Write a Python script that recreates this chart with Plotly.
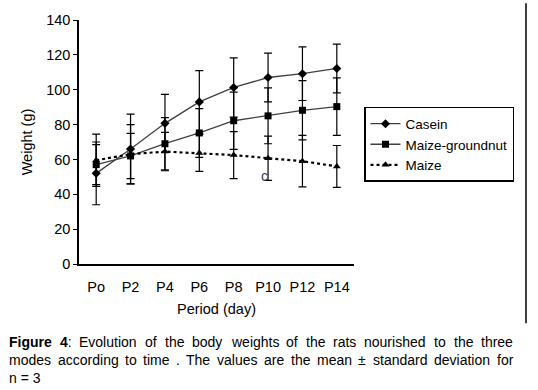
import plotly.graph_objects as go

periods = ["Po", "P2", "P4", "P6", "P8", "P10", "P12", "P14"]
casein = [52, 66, 80.7, 93, 101.3, 107, 109.2, 112.2]
casein_sd = [18, 20, 16.6, 18, 17, 14, 15.4, 14]
maize_gn = [57, 62, 69, 75.2, 82.2, 85, 88.2, 90.3]
maize_gn_sd = [11.5, 13, 15, 14, 16.4, 16, 17, 16.5]
maize = [59.5, 63, 64.5, 63.7, 62.5, 60.7, 59, 56]
maize_sd = [15, 17, 11, 10.5, 13.5, 12.7, 14.8, 12]

caption_line1 = [("Figure", True), ("4", True, ":"), ("Evolution", False), ("of", False),
                 ("the", False), ("body", False), ("weights", False), ("of", False),
                 ("the", False), ("rats", False), ("nourished", False), ("to", False),
                 ("the", False), ("three", False)]
caption_line2 = "modes according to time . The values are the mean ± standard deviation for"
caption_line3 = "n = 3"

FONT = "Liberation Sans, Arial, sans-serif"
CAP_SIZE = 14

# plot-area geometry (px)
L, T, PW, PH = 79, 17, 275, 247


def px_x(px):
    return (px - L) / PW


def px_y(py):
    return (T + PH - py) / PH


REG = dict(a=556, b=556, c=500, d=556, e=556, f=278, g=556, h=556, i=222, j=222, k=500,
           l=222, m=833, n=556, o=556, p=556, q=556, r=333, s=500, t=278, u=556, v=500,
           w=722, x=500, y=500, z=500, T=611, E=667, F=611)
REG.update({".": 278, ":": 278, "±": 584, "=": 584, " ": 278, "3": 556, "4": 556})
BOLD = dict(F=611, i=278, g=611, u=611, r=389, e=556)
BOLD.update({"4": 556, " ": 278})


def width(text, bold=False):
    tab = BOLD if bold else REG
    return sum(tab.get(ch, 556) for ch in text) * CAP_SIZE / 1000.0


fig = go.Figure()


def add(name, y, sd, symbol, dash, lw, color):
    fig.add_trace(go.Scatter(
        x=periods, y=y, name=name, mode="lines+markers",
        line=dict(color=color, width=lw, dash=dash),
        marker=dict(symbol=symbol, size=7, color="black"),
        error_y=dict(type="data", array=sd, visible=True, color="black",
                     thickness=1.2, width=4),
    ))


add("Casein", casein, casein_sd, "diamond", "solid", 1.3, "#404040")
add("Maize-groundnut", maize_gn, maize_gn_sd, "square", "solid", 1.3, "#404040")
add("Maize", maize, maize_sd, "triangle-up", "dot", 2.2, "black")

fig.add_annotation(x="P10", y=50.5, xshift=-4, text="c", showarrow=False,
                   font=dict(family=FONT, size=14, color="#1f3a6b"))

# right-side vertical rule
fig.add_shape(type="line", xref="paper", yref="paper",
              x0=px_x(526), x1=px_x(526), y0=px_y(0), y1=px_y(324),
              line=dict(color="black", width=1.5))


def justified(words, py, x0=8, x1=512):
    items = []
    for w in words:
        if isinstance(w, str):
            items.append((w, width(w)))
        else:
            txt, bold = w[0], w[1]
            tail = w[2] if len(w) > 2 else ""
            wd = width(txt, bold) + width(tail)
            html = ("<b>%s</b>" % txt if bold else txt) + tail
            items.append((html, wd))
    total = sum(i[1] for i in items)
    gap = (x1 - x0 - total) / (len(items) - 1)
    x = x0
    for html, wd in items:
        fig.add_annotation(xref="paper", yref="paper", x=px_x(x), y=px_y(py),
                           xanchor="left", yanchor="middle", text=html, showarrow=False,
                           borderpad=0,
                           font=dict(family=FONT, size=CAP_SIZE, color="black"))
        x += wd + gap


justified(caption_line1, 342.7)
justified(caption_line2.split(" "), 361)
fig.add_annotation(xref="paper", yref="paper", x=px_x(8), y=px_y(379.3),
                   xanchor="left", yanchor="middle", text=caption_line3, showarrow=False,
                   borderpad=0, font=dict(family=FONT, size=CAP_SIZE, color="black"))

fig.update_layout(
    width=538, height=390,
    margin=dict(l=L, r=538 - L - PW, t=T, b=390 - T - PH),
    paper_bgcolor="white", plot_bgcolor="white",
    font=dict(family=FONT, size=14.5, color="black"),
    showlegend=True,
    legend=dict(x=px_x(364), y=px_y(105), xanchor="left", yanchor="top",
                bordercolor="black", borderwidth=1.5, bgcolor="white",
                font=dict(family=FONT, size=13.5), tracegroupgap=0,
                itemwidth=30),
    xaxis=dict(range=[-0.5, 7.5], showline=True, linecolor="black", linewidth=1.5,
               showgrid=False, ticks="", zeroline=False, ticklabelstandoff=9,
               tickfont=dict(size=14.5),
               title=dict(text="Period (day)", standoff=10, font=dict(size=14.5))),
    yaxis=dict(range=[0, 140], dtick=20, showline=True, linecolor="black", linewidth=1.5,
               showgrid=False, ticks="outside", ticklen=4, tickcolor="black",
               zeroline=False, tickfont=dict(size=14.5),
               title=dict(text="Weight (g)", standoff=10, font=dict(size=14.5))),
)

fig.write_html("out.html", config={"displayModeBar": False},
               post_script="document.body.style.margin='0px';")
